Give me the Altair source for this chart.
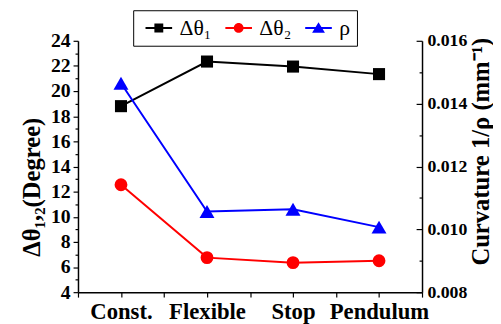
import json
import altair as alt
import pandas as pd

categories = ["Const.", "Flexible", "Stop", "Pendulum"]
dtheta1 = [18.8, 22.35, 21.95, 21.35]
dtheta2 = [12.55, 6.75, 6.35, 6.5]
curvature = [0.01465, 0.01057, 0.01064, 0.01007]
series_names = ["Δθ₁", "Δθ₂", "ρ"]
series_colors = ["#000000", "#ff0000", "#0000ff"]
x_ticks = [0.5, 1, 1.5, 2, 2.5, 3, 3.5, 4, 4.5]
left_ticks = [4, 5, 6, 7, 8, 9, 10, 11, 12, 13, 14, 15, 16, 17, 18, 19, 20, 21, 22, 23, 24]
right_ticks = [0.008, 0.009, 0.010, 0.011, 0.012, 0.013, 0.014, 0.015, 0.016]

rows = []
for i, c in enumerate(categories):
    rows.append({"pos": i + 1, "cat": c, "series": series_names[0], "value": dtheta1[i]})
    rows.append({"pos": i + 1, "cat": c, "series": series_names[1], "value": dtheta2[i]})
    rows.append({"pos": i + 1, "cat": c, "series": series_names[2], "value": curvature[i]})
df = pd.DataFrame(rows)

SERIF = "Times New Roman, Liberation Serif, serif"

fill_scale = alt.Scale(domain=series_names, range=series_colors)
line_bar = "M-3,-0.24H3V0.24H-3Z"
legend_paths = [
    line_bar + "M-1,-1H1V1H-1Z",
    line_bar + "M1.1,0A1.1,1.1,0,1,1,-1.1,0A1.1,1.1,0,1,1,1.1,0Z",
    line_bar + "M0,-1.3L1.45,1.05H-1.45Z",
]
shape_scale = alt.Scale(domain=series_names, range=legend_paths)

x_label_expr = "datum.value % 1 == 0 ? " + json.dumps([""] + categories, ensure_ascii=False) + "[datum.value] : ''"

x_axis = alt.Axis(values=x_ticks, labelExpr=x_label_expr, title=None, grid=False,
                  tickSize=5, tickColor="black", tickWidth=1.2,
                  domainColor="black", domainWidth=1.5, labelPadding=4,
                  labelFont=SERIF, labelFontSize=23, labelFontWeight="bold",
                  labelColor="black", labelOverlap=False, labelFlush=False)

left_axis = alt.Axis(values=left_ticks, format="d",
                     labelExpr="datum.value % 2 == 0 ? datum.label : ''",
                     tickSize={"condition": {"test": "datum.value % 2 == 0", "value": 5}, "value": 3},
                     tickColor="black", tickWidth=1.2, domainColor="black", domainWidth=1.5,
                     grid=False, labelPadding=3, labelOverlap=False, labelFlush=False,
                     labelFont=SERIF, labelFontSize=20, labelFontWeight="bold", labelColor="black",
                     title="Δθ₁,₂(Degree)", titleFont=SERIF, titleFontSize=25, titleFontWeight="bold",
                     titleColor="black", titleAngle=270, titleAlign="center", titleBaseline="alphabetic",
                     titleX=-39, titleY=148)

right_axis = alt.Axis(orient="right", values=right_ticks,
                      labelExpr="round(datum.value * 1000) % 2 == 0 ? format(datum.value, '.3f') : ''",
                      tickSize={"condition": {"test": "round(datum.value * 1000) % 2 == 0", "value": -6}, "value": -3},
                      tickColor="black", tickWidth=1.2, domainColor="black", domainWidth=1.5,
                      grid=False, labelPadding=11, labelOverlap=False, labelFlush=False,
                      labelFont=SERIF, labelFontSize=18, labelFontWeight="bold", labelColor="black",
                      title="Curvature 1/ρ (mm⁻¹)", titleFont=SERIF, titleFontSize=25, titleFontWeight="bold",
                      titleColor="black", titleAngle=270, titleAlign="center", titleBaseline="alphabetic",
                      titleX=67, titleY=112)

legend_def = alt.Legend(orient="none", legendX=56, legendY=-31, direction="horizontal",
                        title=None, strokeColor="black", fillColor="white", padding=7,
                        symbolSize=81, symbolOffset=8, labelOffset=10, columnPadding=8,
                        symbolOpacity=1, symbolStrokeWidth=0,
                        labelFont=SERIF, labelFontSize=22, labelColor="black")

x_enc = alt.X("pos:Q", scale=alt.Scale(domain=[0.5, 4.5], nice=False, zero=False), axis=x_axis)
yl_enc = alt.Y("value:Q", scale=alt.Scale(domain=[4, 24], nice=False, zero=False), axis=left_axis)
yr_enc = alt.Y("value:Q", scale=alt.Scale(domain=[0.008, 0.016], nice=False, zero=False), axis=right_axis)

base = alt.Chart(df)


def series_layers(name, color, shape, size, y_enc):
    sub = base.transform_filter(alt.datum.series == name)
    line = sub.mark_line(strokeWidth=2, color=color).encode(x=x_enc, y=y_enc)
    pts = sub.mark_point(shape=shape, filled=True, size=size, opacity=1, color=color).encode(x=x_enc, y=y_enc)
    return [line, pts]


legend_layer = base.transform_filter("false").mark_point(filled=True, opacity=1).encode(
    x=x_enc, y=yl_enc,
    fill=alt.Fill("series:N", scale=fill_scale, legend=legend_def),
    shape=alt.Shape("series:N", scale=shape_scale, legend=legend_def))

left_group = alt.layer(
    *series_layers(series_names[0], series_colors[0], "square", 150, yl_enc),
    *series_layers(series_names[1], series_colors[1], "circle", 170, yl_enc),
    legend_layer,
)
right_group = alt.layer(*series_layers(series_names[2], series_colors[2], "triangle-up", 230, yr_enc))

chart = alt.layer(left_group, right_group).resolve_scale(y="independent").properties(
    width=349, height=255,
    autosize=alt.AutoSizeParams(type="none"),
    padding={"left": 71, "top": 31, "right": 72, "bottom": 30},
    background="white",
).configure_view(stroke=None)

chart.save("out.html", embed_options={"renderer": "svg", "actions": False})
